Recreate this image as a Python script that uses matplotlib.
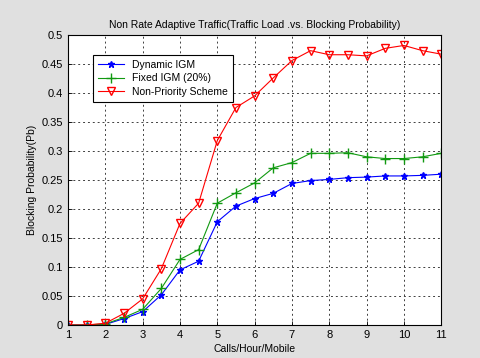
import matplotlib
matplotlib.use("Agg")
import matplotlib.pyplot as plt

load = [1, 1.5, 2, 2.5, 3, 3.5, 4, 4.5, 5, 5.5, 6, 6.5, 7, 7.5, 8, 8.5, 9, 9.5, 10, 10.5, 11]

dynamic_igm = [0, 0, 0.001, 0.011, 0.023, 0.052, 0.095, 0.11, 0.178, 0.205, 0.218, 0.227,
               0.244, 0.249, 0.251, 0.254, 0.255, 0.257, 0.257, 0.258, 0.26]
fixed_igm = [0, 0, 0.002, 0.013, 0.027, 0.063, 0.113, 0.13, 0.21, 0.228, 0.245, 0.271,
             0.28, 0.296, 0.296, 0.297, 0.29, 0.287, 0.287, 0.29, 0.296]
non_priority = [0, 0, 0.003, 0.02, 0.045, 0.097, 0.175, 0.21, 0.318, 0.375, 0.395, 0.426,
                0.456, 0.473, 0.466, 0.466, 0.464, 0.477, 0.482, 0.473, 0.467]

plt.rcParams["font.family"] = ["Liberation Sans", "DejaVu Sans"]

fig = plt.figure(figsize=(4.8, 3.58), dpi=100, facecolor="#e0e0e0")
ax = fig.add_axes([0.1417, 0.0922, 0.7775, 0.8100])
ax.set_facecolor("white")

ax.plot(load, dynamic_igm, color="blue", marker="*", markersize=4.5, lw=0.8,
        label="Dynamic IGM")
ax.plot(load, fixed_igm, color="#119911", marker="+", markersize=7, lw=0.8,
        label="Fixed IGM (20%)")
ax.plot(load, non_priority, color="red", marker="v", markersize=5.5, lw=0.8,
        markerfacecolor="none", label="Non-Priority Scheme")

ax.set_xlim(1, 11)
ax.set_ylim(0, 0.5)
ax.set_xticks(range(1, 12))
ax.set_yticks([0, 0.05, 0.1, 0.15, 0.2, 0.25, 0.3, 0.35, 0.4, 0.45, 0.5])
ax.set_yticklabels(["0", "0.05", "0.1", "0.15", "0.2", "0.25", "0.3", "0.35",
                    "0.4", "0.45", "0.5"])
ax.tick_params(labelsize=8, direction="in", length=3, width=0.6)
ax.grid(True, linestyle=(0, (2, 3)), color="#404040", linewidth=0.7)
for s in ax.spines.values():
    s.set_linewidth(0.8)

ax.set_title("Non Rate Adaptive Traffic(Traffic Load .vs. Blocking Probability)",
             fontsize=7.5, pad=5)
ax.set_xlabel("Calls/Hour/Mobile", fontsize=7.5, labelpad=3)
ax.set_ylabel("Blocking Probability(Pb)", fontsize=7.5, labelpad=3)

leg = ax.legend(loc="upper left", bbox_to_anchor=(0.067, 0.931), fontsize=7.5,
                fancybox=False, framealpha=1, edgecolor="black",
                borderpad=0.45, labelspacing=0.35, handlelength=2.5,
                borderaxespad=0)
leg.get_frame().set_linewidth(0.8)

fig.savefig("out.png", dpi=100, facecolor=fig.get_facecolor())
